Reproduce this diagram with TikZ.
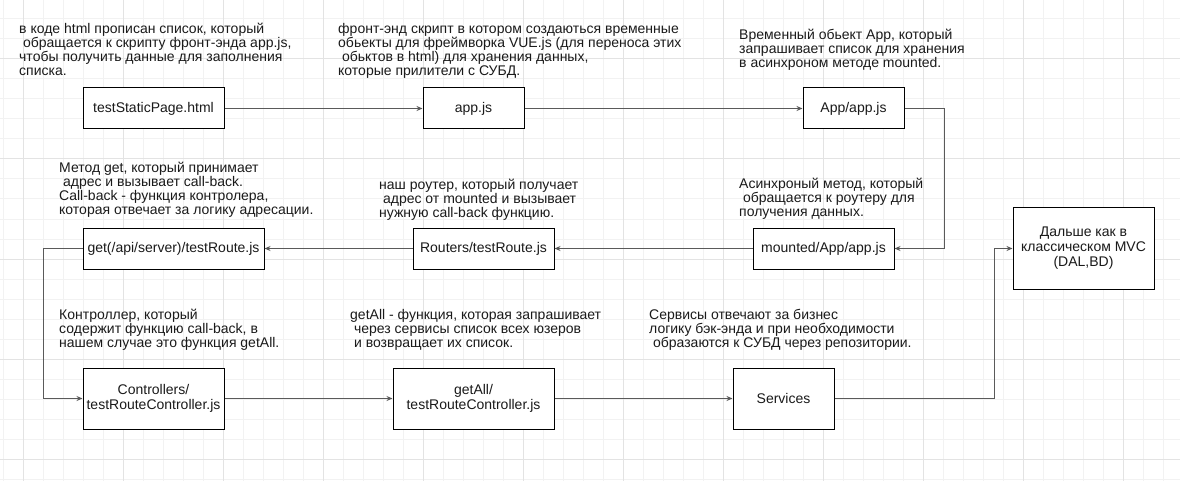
\documentclass[tikz,border=0pt]{standalone}
\usepackage{fontspec}
\setmainfont{Liberation Sans}
\usetikzlibrary{arrows.meta}
\definecolor{gridminor}{HTML}{F2F2F2}
\definecolor{gridmajor}{HTML}{E3E3E3}
\definecolor{connc}{HTML}{5A5A5A}
\definecolor{txt}{HTML}{1A1A1A}
\newcommand\lsp{\hspace*{0.278em}}
\begin{document}
\begin{tikzpicture}[x=1pt,y=-1pt,
  box/.style={draw=black, line width=1pt, fill=white, align=center, inner sep=2pt, text=txt, font=\fontsize{14}{15}\selectfont},
  note/.style={anchor=north west, align=left, inner sep=0pt, text=txt, font=\fontsize{14}{14}\selectfont},
  conn/.style={draw=connc, line width=1.7pt, -{Stealth[length=6pt,width=5pt]}}]
\useasboundingbox (0,0) rectangle (1180,481);
\fill[white] (0,0) rectangle (1180,481);
\foreach \x in {3,23,...,1163} \draw[gridminor, line width=1pt] (\x,0) -- (\x,481);
\foreach \y in {19,39,...,479} \draw[gridminor, line width=1pt] (0,\y) -- (1180,\y);
\foreach \x in {23,123,...,1123} \draw[gridmajor, line width=1pt] (\x,0) -- (\x,481);
\foreach \y in {59,159,...,459} \draw[gridmajor, line width=1pt] (0,\y) -- (1180,\y);

% boxes
\node[box, minimum width=141pt, minimum height=41pt] (tsp) at (153.5,108.5) {testStaticPage.html};
\node[box, minimum width=101pt, minimum height=41pt] (appjs) at (473.5,108.5) {app.js};
\node[box, minimum width=101pt, minimum height=41pt] (App) at (853.5,108.5) {App/app.js};
\node[box, minimum width=141pt, minimum height=41pt] (mounted) at (823.5,248.5) {mounted/App/app.js};
\node[box, minimum width=141pt, minimum height=41pt] (routers) at (483.5,248.5) {Routers/testRoute.js};
\node[box, minimum width=181pt, minimum height=41pt] (get) at (173.5,248.5) {get(/api/server)/testRoute.js};
\node[box, minimum width=141pt, minimum height=81pt] (dal) at (1083.5,248.5) {Дальше как в\\классическом MVC\\(DAL,BD)};
\node[box, minimum width=141pt, minimum height=61pt] (ctrl) at (153.5,398.5) {Controllers/\\testRouteController.js};
\node[box, minimum width=161pt, minimum height=61pt] (getall) at (473.5,398.5) {getAll/\\testRouteController.js};
\node[box, minimum width=101pt, minimum height=61pt] (serv) at (783.5,398.5) {Services};

% notes
\node[note] (n1) at (19,23) {в коде html прописан список, который\\\lsp обращается к скрипту фронт-энда app.js,\\чтобы получить данные для заполнения\\списка.};
\node[note] (n2) at (338,23) {фронт-энд скрипт в котором создаються временные\\обьекты для фреймворка VUE.js (для переноса этих\\\lsp обьктов в html) для хранения данных,\\которые прилители с СУБД.};
\node[note] (n3) at (739,29) {Временный обьект App, который\\запрашивает список для хранения\\в асинхроном методе mounted.};
\node[note] (n4) at (59,162) {Метод get, который принимает\\\lsp адрес и вызывает call-back.\\Call-back - функция контролера,\\которая отвечает за логику адресации.};
\node[note] (n5) at (379,179) {наш роутер, который получает\\\lsp адрес от mounted и вызывает\\нужную call-back функцию.};
\node[note] (n6) at (739,178) {Асинхроный метод, который\\\lsp обращается к роутеру для\\получения данных.};
\node[note] (n7) at (59,309) {Контроллер, который\\содержит функцию call-back, в\\нашем случае это функция getAll.};
\node[note] (n8) at (350,309) {getAll - функция, которая запрашивает\\\lsp через сервисы список всех юзеров\\\lsp и возвращает их список.};
\node[note] (n9) at (649,309) {Сервисы отвечают за бизнес\\логику бэк-энда и при необходимости\\\lsp образаются к СУБД через репозитории.};

% connectors
\draw[conn] (tsp.east) -- (appjs.west);
\draw[conn] (appjs.east) -- (App.west);
\draw[conn] (App.east) -- ++(40,0) |- (mounted.east);
\draw[conn] (mounted.west) -- (routers.east);
\draw[conn] (routers.west) -- (get.east);
\draw[conn] (get.west) -- ++(-39,0) |- (ctrl.west);
\draw[conn] (ctrl.east) -- (getall.west);
\draw[conn] (getall.east) -- (serv.west);
\draw[conn] (serv.east) -- ++(160,0) |- (dal.west);
\end{tikzpicture}
\end{document}
